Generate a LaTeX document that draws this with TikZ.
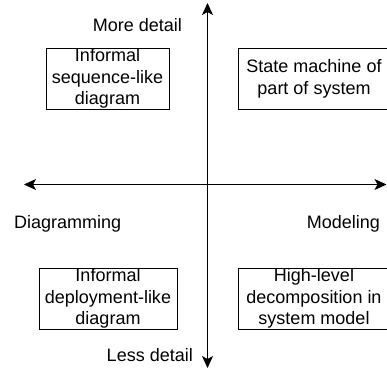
\documentclass[tikz,border=0pt]{standalone}
\usepackage{fontspec}
\setmainfont{Liberation Sans}
\usetikzlibrary{arrows.meta}
\begin{document}
\begin{tikzpicture}[x=1pt,y=1pt,
  every node/.style={font=\fontsize{18}{21.5}\selectfont, inner sep=0pt},
  box/.style={draw, line width=0.9pt, align=center, minimum height=61pt},
  axis/.style={line width=1pt, {Stealth[length=12pt,width=11pt,inset=3pt]}-{Stealth[length=12pt,width=11pt,inset=3pt]}},
  lbl/.style={}]
\useasboundingbox (0,0) rectangle (387,-370);
\coordinate (top) at (207.5,-3);
\coordinate (bottom) at (207.5,-368);
\coordinate (left) at (24,-184.5);
\coordinate (right) at (386.5,-184.5);
\draw[axis] (bottom) -- (top);
\draw[axis] (left) -- (right);
\node[box, minimum width=123pt] (seq) at (107.5,-78.5) {Informal\\sequence-like\\diagram};
\node[box, minimum width=152pt] (sm) at (314,-78.7) {State machine of\\part of system};
\node[box, minimum width=138pt] (dep) at (108,-298.7) {Informal\\deployment-like\\diagram};
\node[box, minimum width=152pt] (hl) at (314,-298.7) {High-level\\decomposition in\\system model};
\node[lbl, anchor=base east] (more) at (182,-31.5) {More detail};
\node[lbl, anchor=base west] (diag) at (14,-228) {Diagramming};
\node[lbl, anchor=base east] (model) at (380,-228) {Modeling};
\node[lbl, anchor=base east] (less) at (193,-361) {Less detail};
\end{tikzpicture}
\end{document}
